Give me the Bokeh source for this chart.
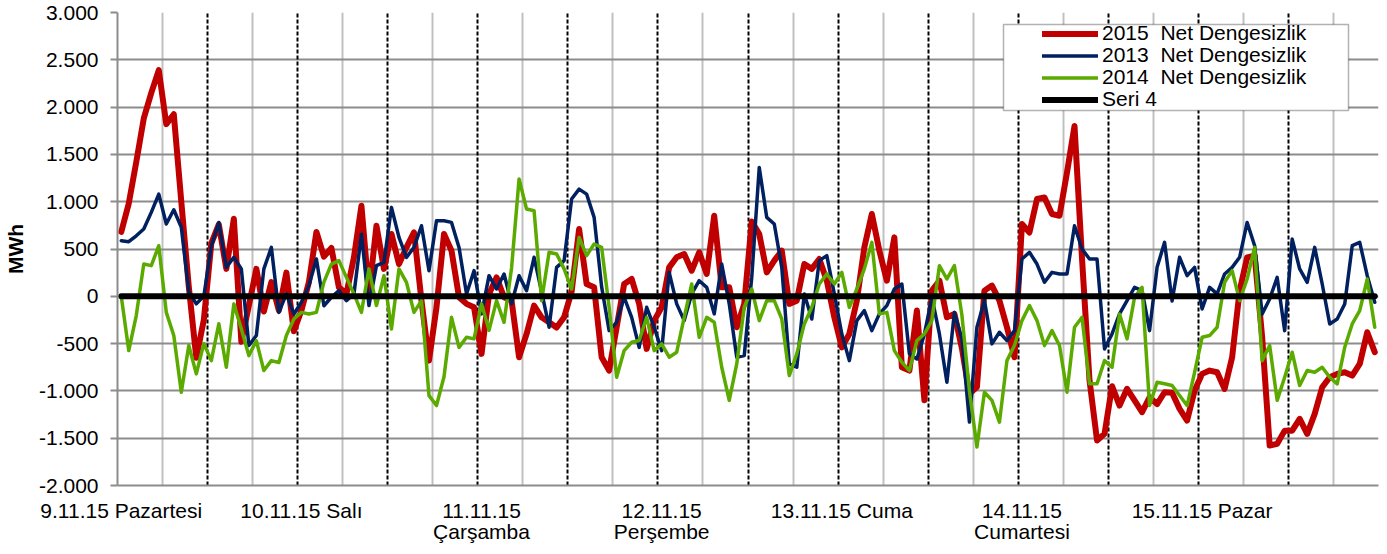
from bokeh.plotting import figure
from bokeh.models import Range1d, FixedTicker, Grid, Legend, LegendItem, BoxAnnotation
from bokeh.embed import file_html
from bokeh.resources import INLINE

# ---------------- data ----------------
hours_per_day = 24
day_labels = ["9.11.15 Pazartesi", "10.11.15 Salı", "11.11.15\nÇarşamba", "12.11.15\nPerşembe",
              "13.11.15 Cuma", "14.11.15\nCumartesi", "15.11.15 Pazar"]
y_ticks = [-2000, -1500, -1000, -500, 0, 500, 1000, 1500, 2000, 2500, 3000]
y_tick_labels = ["-2.000", "-1.500", "-1.000", "-500", "0", "500", "1.000", "1.500", "2.000", "2.500", "3.000"]
series_labels = ["2015  Net Dengesizlik", "2013  Net Dengesizlik", "2014  Net Dengesizlik", "Seri 4"]

net_2015 = [
    680, 980, 1420, 1880, 2150, 2390, 1820, 1925, 1000, 100, -650, -250, 560, 760, 290, 820, -480, -100, 290, -160, 150, -150, 250, -370, -150, 150, 680, 420,
    510, 95, 25, 412, 957, 25, 746, 290, 658, 341, 517, 675, -46, -680, -116, 658, 482, -10, -80, -116, -609, 25, 200, -10, -46, -644, -398, -98,
    -222, -275, -330, -222, 50, 711, 130, 95, -644, -785, -327, 130, 183, -80, -556, -257, -116, 306, 412, 447, 271, 465, 236, 852, 95, 95, -327, -80,
    790, 658, 253, 377, 482, -80, -46, 341, 290, 394, 165, -222, -540, -398, -46, 517, 870, 482, 165, 623, -750, -785, -151, -1100, 60, 165, -222, -186,
    -550, -1030, -960, 60, 113, -46, -327, -644, 764, 675, 1028, 1045, 870, 852, 1310, 1800, 400, -890, -1524, -1454, -950, -1155, -978, -1100, -1225, -1067, -1140, -1014,
    -1020, -1190, -1313, -996, -820, -785, -803, -979, -644, 60, 412, 430, -433, -1577, -1560, -1420, -1420, -1295, -1454, -1243, -961, -855, -820, -803, -838, -715, -380, -590,
]
net_2013 = [
    588, 577, 640, 711, 887, 1080, 764, 915, 730, 50, -80, 0, 530, 780, 306, 412, 290, -520, -415, 290, 517, -170, 25, -187, -63, 113, 394, -100,
    -10, 60, -46, 25, 658, -98, 324, 359, 940, 623, 412, 517, 746, 271, 799, 799, 781, 517, 25, 271, -186, 218, 77, 236, -80, 218, 60, 412,
    50, -327, 306, 377, 1028, 1133, 1080, 834, 100, -363, -275, -10, -222, -540, -116, -327, -574, 253, -80, -257, 25, 165, 95, -186, 341, -80, -644, -626,
    200, 1362, 834, 764, 306, -715, -750, 25, -240, 377, 430, 25, -398, -680, -257, -151, -363, -186, -98, 77, 130, -609, -662, -400, -10, -398, -908, -170,
    -450, -1330, -327, -46, -503, -380, -468, -363, 394, 465, 341, 148, 253, 236, 236, 746, 500, 394, 394, -556, -398, -186, -46, 95, 60, -363, 306, 570,
    -50, 412, 218, 306, -134, 95, 25, 236, 306, 412, 781, 535, -187, -28, 200, -363, 605, 289, 148, 517, 130, -292, -240, -81, 535, 570, 218, -63,
]
net_2014 = [
    0, -574, -204, 341, 324, 535, -170, -415, -1014, -520, -820, -500, -680, -290, -750, -80, -345, -627, -470, -785, -680, -700, -415, -240, -170, -187, -170, 150,
    341, 377, 200, 25, -170, 290, -98, 218, -345, 290, 148, -170, -46, -1050, -1155, -850, -222, -540, -433, -450, -80, -360, -46, -275, 300, 1240, 922, 905,
    -46, 465, 447, 290, 77, 623, 430, 553, 517, -116, -855, -574, -486, -468, -222, -574, -503, -644, -591, -222, 130, -433, -222, -275, -750, -1100, -715, -116,
    77, -257, -46, -46, -240, -838, -609, -292, -116, 130, 236, 130, 253, -116, 77, 290, 570, -186, -170, -574, -697, -785, -468, -398, -257, 324, 183, 324,
    -200, -1000, -1594, -1014, -1100, -1330, -680, -521, -257, -98, -257, -521, -363, -521, -1014, -327, -222, -925, -925, -680, -750, -186, -450, -10, 95, -1155, -908, -925,
    -943, -1049, -1155, -803, -433, -415, -327, 148, 271, -46, 183, 517, -680, -521, -1100, -855, -591, -943, -785, -803, -750, -855, -926, -539, -292, -151, 183, -327,
]
seri_4 = [0] * len(net_2015)

# ---------------- layout ----------------
n = len(net_2015)
x = [i + 0.5 for i in range(n)]
FONT = "Liberation Sans"

p = figure(width=1387, height=554, output_backend="svg", toolbar_location=None,
           x_range=Range1d(0, n), y_range=Range1d(y_ticks[0], y_ticks[-1]),
           min_border_left=117, min_border_right=9, min_border_top=12, min_border_bottom=69)
p.outline_line_color = None
p.background_fill_color = "white"
p.border_fill_color = "white"

# axes
day_ticks = [d * hours_per_day + 0.5 for d in range(len(day_labels))]
p.xaxis.ticker = FixedTicker(ticks=day_ticks)
p.xaxis.major_label_overrides = {t: lab for t, lab in zip(day_ticks, day_labels)}
p.xaxis.major_tick_out = 0
p.xaxis.major_tick_in = 0
p.xaxis.minor_tick_line_color = None
p.xaxis.axis_line_color = "#8c8c8c"
p.xaxis.axis_line_width = 2
p.xaxis.major_label_standoff = 13
p.xaxis.major_label_text_font = FONT
p.xaxis.major_label_text_font_size = "21px"
p.xaxis.major_label_text_color = "black"
p.xaxis.major_label_text_line_height = 0.95

p.yaxis.ticker = FixedTicker(ticks=y_ticks)
p.yaxis.major_label_overrides = {t: lab for t, lab in zip(y_ticks, y_tick_labels)}
p.yaxis.major_tick_out = 7
p.yaxis.major_tick_in = 0
p.yaxis.major_tick_line_color = "#8c8c8c"
p.yaxis.major_tick_line_width = 2
p.yaxis.minor_tick_line_color = None
p.yaxis.axis_line_color = "#8c8c8c"
p.yaxis.axis_line_width = 2
p.yaxis.major_label_standoff = 12
p.yaxis.major_label_text_font = FONT
p.yaxis.major_label_text_font_size = "21px"
p.yaxis.major_label_text_color = "black"
p.yaxis.axis_label = "MWh"
p.yaxis.axis_label_text_font = FONT
p.yaxis.axis_label_text_font_size = "21px"
p.yaxis.axis_label_text_font_style = "bold"
p.yaxis.axis_label_text_color = "black"
p.yaxis.axis_label_standoff = 9

# grids
p.ygrid.ticker = FixedTicker(ticks=y_ticks)
p.ygrid.grid_line_color = "#8c8c8c"
p.ygrid.grid_line_width = 2
p.xgrid.ticker = FixedTicker(ticks=list(range(hours_per_day // 4, n, hours_per_day // 2)))
p.xgrid.grid_line_color = "#c0c0c0"
p.xgrid.grid_line_width = 2
dash_grid = Grid(dimension=0, ticker=FixedTicker(ticks=list(range(hours_per_day // 2, n + 1, hours_per_day // 2))),
                 grid_line_color="black", grid_line_width=2, grid_line_dash="4 2")
p.add_layout(dash_grid)

# series
r15 = p.line(x, net_2015, line_color="#C00000", line_width=6, line_join="round", line_cap="round")
r13 = p.line(x, net_2013, line_color="#002060", line_width=3.5, line_join="round", line_cap="round")
r14 = p.line(x, net_2014, line_color="#5BAA00", line_width=3.5, line_join="round", line_cap="round")
r4 = p.line(x, seri_4, line_color="black", line_width=6, line_join="round", line_cap="round")

# legend: white framed box, then one single-row legend per series so the rows sit tightly
box = BoxAnnotation(left=886, right=1231, bottom=375, top=461,
                    left_units="screen", right_units="screen", top_units="screen", bottom_units="screen",
                    fill_color="white", fill_alpha=1.0, line_color="black", line_width=1.5)
p.add_layout(box)
row_bottoms = [440, 418, 396, 374]
for lab, r, yb in zip(series_labels, [r15, r13, r14, r4], row_bottoms):
    lg = Legend(items=[LegendItem(label=lab, renderers=[r])],
                location=(925, yb), padding=0, spacing=0, margin=0,
                glyph_width=56, glyph_height=21, label_height=21, label_standoff=4,
                label_text_font=FONT, label_text_font_size="21px", label_text_color="black",
                border_line_alpha=0, background_fill_alpha=0)
    p.add_layout(lg)

open("out.html", "w").write(file_html(p, INLINE))
